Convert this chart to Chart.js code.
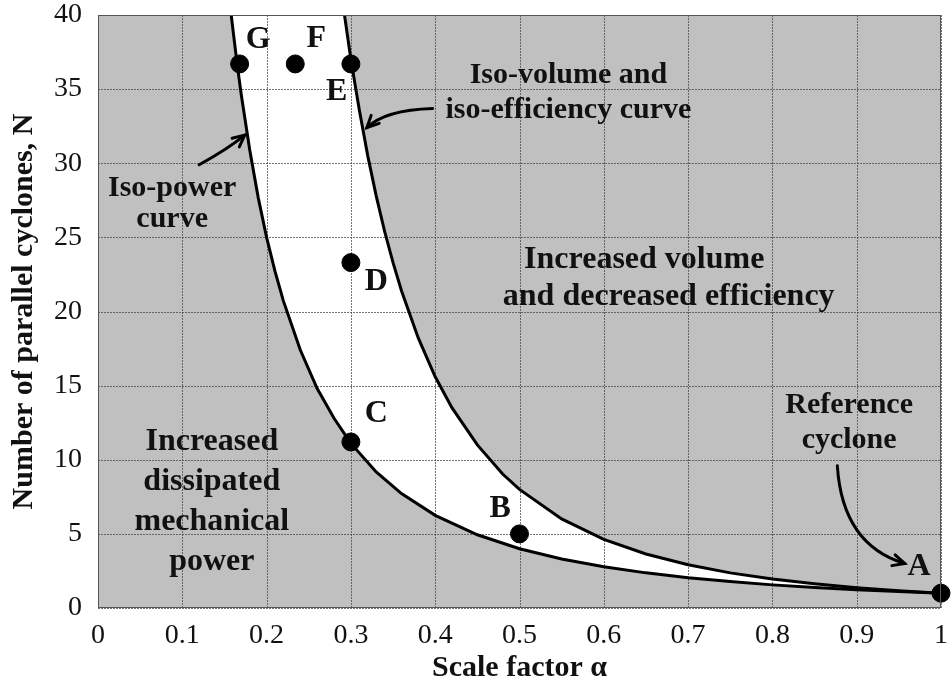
<!DOCTYPE html>
<html>
<head>
<meta charset="utf-8">
<script src="https://cdn.jsdelivr.net/npm/chart.js@4.4.1/dist/chart.umd.min.js"></script>
<style>
  html, body { margin: 0; padding: 0; background: #fff; }
</style>
</head>
<body>
<canvas id="chart" width="952" height="686"></canvas>
<script>
const xTickLabels = ["0", "0.1", "0.2", "0.3", "0.4", "0.5", "0.6", "0.7", "0.8", "0.9", "1"];
const yTickLabels = ["0", "5", "10", "15", "20", "25", "30", "35", "40"];

// iso-power curve (lower one)
const powerAlpha = [0.158, 0.165, 0.17, 0.18, 0.19, 0.2, 0.21, 0.22, 0.24, 0.26, 0.28, 0.3, 0.33, 0.36, 0.4, 0.45, 0.5, 0.55, 0.6, 0.65, 0.7, 0.75, 0.8, 0.85, 0.9, 0.95, 1.0];
const powerN = [40.0, 36.7, 34.6, 30.9, 27.7, 25.0, 22.7, 20.7, 17.4, 14.8, 12.8, 11.1, 9.18, 7.72, 6.25, 4.94, 4.0, 3.31, 2.78, 2.37, 2.04, 1.78, 1.56, 1.38, 1.23, 1.11, 1.0];

// iso-volume / iso-efficiency curve (upper one)
const volumeAlpha = [0.2924, 0.3, 0.31, 0.32, 0.33, 0.34, 0.35, 0.36, 0.38, 0.4, 0.42, 0.45, 0.48, 0.5, 0.55, 0.6, 0.65, 0.7, 0.75, 0.8, 0.85, 0.9, 0.95, 1.0];
const volumeN = [40.0, 37.0, 33.6, 30.5, 27.8, 25.4, 23.3, 21.4, 18.2, 15.6, 13.5, 11.0, 9.04, 8.0, 6.01, 4.63, 3.64, 2.92, 2.37, 1.95, 1.63, 1.37, 1.17, 1.0];

// design points
const pointNames = ["A", "B", "C", "D", "E", "F", "G"];
const pointAlpha = [1.0, 0.5, 0.3, 0.3, 0.3, 0.234, 0.168];
const pointN = [1.0, 5.0, 11.2, 23.3, 36.7, 36.7, 36.7];

const serif = '"Liberation Serif", "Times New Roman", serif';

const powerPts = powerAlpha.map((a, i) => ({ x: a, y: powerN[i] }));
const volumePts = volumeAlpha.map((a, i) => ({ x: a, y: volumeN[i] }));
const bandPts = powerPts.concat(volumePts.slice().reverse());
const markerPts = pointAlpha.map((a, i) => ({ x: a, y: pointN[i] }));

// where the point letters sit (data units)
const nameSpots = {
  A: [0.974, 2.8], B: [0.477, 6.7], C: [0.330, 13.1], D: [0.330, 22.0],
  E: [0.283, 34.8], F: [0.259, 38.4], G: [0.190, 38.3]
};

// text, alpha, N, font size
const notes = [
  ["Iso-volume and", 0.558, 35.95, 30],
  ["iso-efficiency curve", 0.558, 33.6, 30],
  ["Iso-power", 0.088, 28.3, 30],
  ["curve", 0.088, 26.2, 30],
  ["Increased volume", 0.648, 23.5, 32],
  ["and decreased efficiency", 0.677, 21.0, 32],
  ["Increased", 0.135, 11.2, 32],
  ["dissipated", 0.135, 8.5, 32],
  ["mechanical", 0.135, 5.8, 32],
  ["power", 0.135, 3.1, 32],
  ["Reference", 0.891, 13.7, 30],
  ["cyclone", 0.891, 11.3, 30]
];

const arrows = [
  [[0.120, 29.9], [0.155, 31.0], [0.174, 31.9]],
  [[0.397, 33.7], [0.340, 33.6], [0.319, 32.4]],
  [[0.877, 9.6], [0.883, 4.25], [0.957, 3.0]]
];

const decor = {
  id: "decor",
  beforeDraw(chart) {
    const { ctx, chartArea: a } = chart;
    ctx.save();
    ctx.fillStyle = "#fff";
    ctx.fillRect(0, 0, chart.width, chart.height);
    ctx.fillStyle = "#c0c0c0";
    ctx.fillRect(a.left, a.top, a.right - a.left, a.bottom - a.top);
    ctx.restore();
  },
  afterDatasetDraw(chart, args) {
    if (args.index !== 0) return;
    // grid goes over the white band but under the curves
    const { ctx, chartArea: a, scales } = chart;
    ctx.save();
    ctx.strokeStyle = "rgba(70,70,70,0.75)";
    ctx.lineWidth = 1;
    ctx.setLineDash([2, 1]);
    ctx.beginPath();
    scales.x.ticks.forEach(t => {
      const px = Math.round(scales.x.getPixelForValue(t.value)) + 0.5;
      ctx.moveTo(px, a.top); ctx.lineTo(px, a.bottom);
    });
    scales.y.ticks.forEach(t => {
      const py = Math.round(scales.y.getPixelForValue(t.value)) + 0.5;
      ctx.moveTo(a.left, py); ctx.lineTo(a.right, py);
    });
    ctx.stroke();
    ctx.restore();
  },
  afterDraw(chart) {
    const { ctx, chartArea: a, scales } = chart;
    const X = v => scales.x.getPixelForValue(v);
    const Y = v => scales.y.getPixelForValue(v);
    ctx.save();
    ctx.strokeStyle = "#555";
    ctx.lineWidth = 1;
    ctx.strokeRect(a.left + 0.5, a.top + 0.5, a.right - a.left - 1, a.bottom - a.top - 1);

    ctx.fillStyle = "#111";
    ctx.textAlign = "center";
    ctx.textBaseline = "middle";
    notes.forEach(([t, x, y, fs]) => {
      ctx.font = "bold " + fs + "px " + serif;
      ctx.fillText(t, X(x), Y(y));
    });

    ctx.font = "bold 32px " + serif;
    pointNames.forEach(n => ctx.fillText(n, X(nameSpots[n][0]), Y(nameSpots[n][1])));

    ctx.strokeStyle = "#000";
    ctx.lineWidth = 3;
    ctx.lineCap = "round";
    arrows.forEach(([s, c, e]) => {
      const sx = X(s[0]), sy = Y(s[1]), cx = X(c[0]), cy = Y(c[1]), ex = X(e[0]), ey = Y(e[1]);
      ctx.beginPath();
      ctx.moveTo(sx, sy);
      ctx.quadraticCurveTo(cx, cy, ex, ey);
      ctx.stroke();
      const ang = Math.atan2(ey - cy, ex - cx);
      const L = 13;
      ctx.beginPath();
      ctx.moveTo(ex - L * Math.cos(ang - 0.45), ey - L * Math.sin(ang - 0.45));
      ctx.lineTo(ex, ey);
      ctx.lineTo(ex - L * Math.cos(ang + 0.45), ey - L * Math.sin(ang + 0.45));
      ctx.stroke();
    });
    ctx.restore();
  }
};

new Chart(document.getElementById("chart").getContext("2d"), {
  type: "scatter",
  data: {
    datasets: [
      {
        data: bandPts,
        order: 10,
        showLine: true,
        fill: "shape",
        backgroundColor: "#fff",
        borderWidth: 0,
        borderColor: "rgba(0,0,0,0)",
        pointRadius: 0
      },
      {
        data: powerPts,
        order: 5,
        showLine: true,
        fill: false,
        borderColor: "#000",
        borderWidth: 3,
        pointRadius: 0
      },
      {
        data: volumePts,
        order: 5,
        showLine: true,
        fill: false,
        borderColor: "#000",
        borderWidth: 3,
        pointRadius: 0
      },
      {
        data: markerPts,
        order: 0,
        showLine: false,
        backgroundColor: "#000",
        borderColor: "#000",
        pointRadius: 9,
        clip: false
      }
    ]
  },
  options: {
    responsive: false,
    animation: false,
    layout: { padding: { top: 15, right: 11, left: 0, bottom: 0 } },
    plugins: { legend: { display: false }, tooltip: { enabled: false } },
    scales: {
      x: {
        type: "linear",
        min: 0,
        max: 1,
        afterBuildTicks: s => { s.ticks = xTickLabels.map(v => ({ value: Number(v) })); },
        afterFit: s => { s.height = 78; s.paddingLeft = 0; s.paddingRight = 0; },
        grid: { display: false },
        border: { display: false },
        ticks: {
          color: "#111",
          padding: 3,
          maxRotation: 0,
          font: { family: serif, size: 28 },
          callback: (v, i) => xTickLabels[i]
        },
        title: {
          display: true,
          text: "Scale factor \u03b1",
          color: "#111",
          padding: { top: 0, bottom: 0 },
          font: { family: serif, size: 30, weight: "bold" }
        }
      },
      y: {
        type: "linear",
        min: 0,
        max: 40,
        afterBuildTicks: s => { s.ticks = yTickLabels.map(v => ({ value: Number(v) })); },
        afterFit: s => { s.width = 98; s.paddingTop = 0; s.paddingBottom = 0; },
        grid: { display: false },
        border: { display: false },
        ticks: {
          color: "#111",
          padding: 8,
          font: { family: serif, size: 28 },
          callback: (v, i) => yTickLabels[i]
        },
        title: {
          display: true,
          text: "Number of parallel cyclones, N",
          color: "#111",
          padding: { top: 6, bottom: 2 },
          font: { family: serif, size: 30, weight: "bold" }
        }
      }
    }
  },
  plugins: [decor]
});
</script>
</body>
</html>
